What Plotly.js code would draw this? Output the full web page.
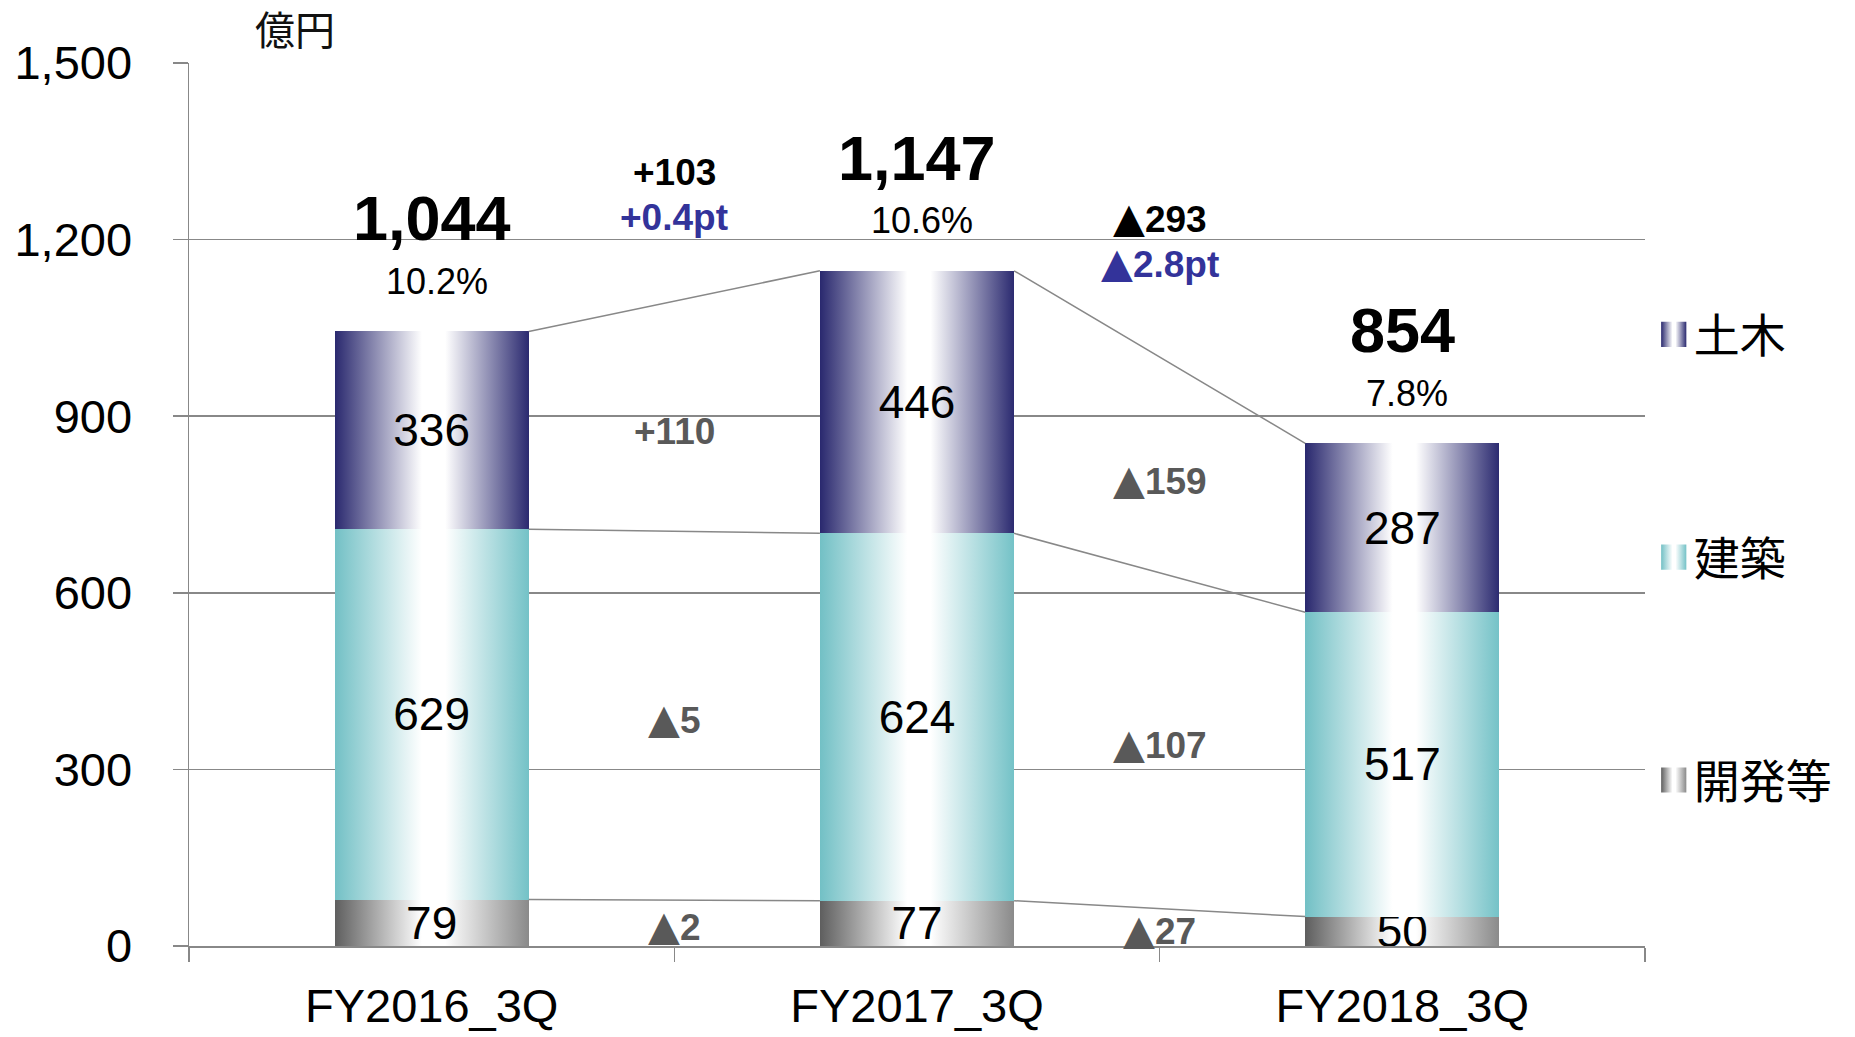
<!DOCTYPE html>
<html><head><meta charset="utf-8">
<script src="https://cdn.plot.ly/plotly-3.0.1.min.js"></script>
<style>html,body{margin:0;padding:0;background:#fff;}#chart{width:1855px;height:1037px;}</style>
</head><body>
<svg width="0" height="0" style="position:absolute"><defs id="gdefs"></defs></svg>
<div id="chart"></div>
<script>
// ---- data ----
const categories = ['FY2016_3Q', 'FY2017_3Q', 'FY2018_3Q'];
const seriesNames = ['開発等', '建築', '土木'];
const kaihatsu = [79, 77, 50];
const kenchiku = [629, 624, 517];
const doboku = [336, 446, 287];
const totals = [1044, 1147, 854];
const marginPct = [10.2, 10.6, 7.8];
const diffTotal = ['+103', '▲293'];
const diffPt = ['+0.4pt', '▲2.8pt'];
const diffDoboku = ['+110', '▲159'];
const diffKenchiku = ['▲5', '▲107'];
const diffKaihatsu = ['▲2', '▲27'];
const yTickVals = [0, 300, 600, 900, 1200, 1500];
const unitLabel = '億円';

// ---- style ----
const FONT = '"Liberation Sans", Arial, sans-serif';
const CJK = '"Noto Sans CJK JP", "Noto Sans CJK SC", sans-serif';
const GRAY = '#888888';
const BARW = 0.4;
const gradients = {
  '開発等': ['#5e5e5e', '#ffffff', '#ffffff', '#8a8a8a'],
  '建築':   ['#72c0c5', '#ffffff', '#ffffff', '#74c2c7'],
  '土木':   ['#29286e', '#ffffff', '#ffffff', '#2b2a70']
};
const baseColor = {'開発等': '#777777', '建築': '#74c2c7', '土木': '#2b2a70'};
const legendRank = {'土木': 1, '建築': 2, '開発等': 3};

const idx = categories.map((c, i) => i);
const seriesVals = [kaihatsu, kenchiku, doboku];

const lvl1 = kaihatsu.slice();
const lvl2 = kaihatsu.map((v, i) => v + kenchiku[i]);
const lvl3 = lvl2.map((v, i) => v + doboku[i]);

const traces = seriesNames.map((name, k) => ({
  type: 'bar', name: name, x: idx, y: seriesVals[k], width: BARW,
  text: seriesVals[k].map(String), textposition: 'inside', insidetextanchor: 'middle',
  constraintext: 'none', textangle: 0, cliponaxis: false,
  textfont: {family: FONT, size: 46, color: '#000'},
  marker: {color: baseColor[name], line: {width: 0}},
  legendgroup: name, legendrank: legendRank[name], hoverinfo: 'skip'
}));

function connector(levels) {
  const xs = [], ys = [];
  for (let i = 0; i < idx.length - 1; i++) {
    xs.push(idx[i] + BARW / 2, idx[i + 1] - BARW / 2, null);
    ys.push(levels[i], levels[i + 1], null);
  }
  return {type: 'scatter', mode: 'lines', x: xs, y: ys, showlegend: false,
    hoverinfo: 'skip', line: {color: GRAY, width: 1.5}};
}
[lvl1, lvl2, lvl3].forEach(l => traces.push(connector(l)));

// bigger triangle glyph
const tri = s => s.replace(/▲/g, '<span style="font-family:\'DejaVu Sans\';font-size:1.12em">▲</span>');

const annotations = [];
idx.forEach(i => {
  annotations.push({x: i, y: lvl3[i], xref: 'x', yref: 'y', yshift: 113, showarrow: false,
    text: '<b>' + totals[i].toLocaleString('en-US') + '</b>',
    font: {family: FONT, size: 63, color: '#000'}});
  annotations.push({x: i, y: lvl3[i], xref: 'x', yref: 'y', yshift: 50, xshift: 5, showarrow: false,
    text: marginPct[i].toFixed(1) + '%', font: {family: FONT, size: 36, color: '#000'}});
});
// positions of the change labels above the chart (layout constants)
const topLabelY = [[1314, 1237], [1237, 1161]];
const mid = (a, b) => (a + b) / 2;
for (let i = 0; i < idx.length - 1; i++) {
  const xm = idx[i] + 0.5;
  annotations.push({x: xm, y: topLabelY[i][0], xref: 'x', yref: 'y', showarrow: false,
    text: '<b>' + tri(diffTotal[i]) + '</b>', font: {family: FONT, size: 37, color: '#000'}});
  annotations.push({x: xm, y: topLabelY[i][1], xref: 'x', yref: 'y', showarrow: false,
    text: '<b>' + tri(diffPt[i]) + '</b>', font: {family: FONT, size: 37, color: '#33339a'}});
  const m3 = mid(mid(lvl2[i], lvl3[i]), mid(lvl2[i + 1], lvl3[i + 1]));
  const m2 = mid(mid(lvl1[i], lvl2[i]), mid(lvl1[i + 1], lvl2[i + 1]));
  const m1 = mid(mid(0, lvl1[i]), mid(0, lvl1[i + 1]));
  annotations.push({x: xm, y: m3, xref: 'x', yref: 'y', yshift: -15, showarrow: false,
    text: '<b>' + tri(diffDoboku[i]) + '</b>', font: {family: FONT, size: 37, color: '#595959'}});
  annotations.push({x: xm, y: m2, xref: 'x', yref: 'y', yshift: -3, showarrow: false,
    text: '<b>' + tri(diffKenchiku[i]) + '</b>', font: {family: FONT, size: 37, color: '#595959'}});
  annotations.push({x: xm, y: m1, xref: 'x', yref: 'y', yshift: -3, showarrow: false,
    text: '<b>' + tri(diffKaihatsu[i]) + '</b>', font: {family: FONT, size: 37, color: '#595959'}});
}
annotations.push({x: 0.0728, y: 1.04, xref: 'paper', yref: 'paper', xanchor: 'center', yanchor: 'middle',
  showarrow: false, text: unitLabel, font: {family: CJK, size: 40, color: '#111'}});

const boundaries = idx.map(i => i - 0.5).concat([idx.length - 0.5]);

const layout = {
  width: 1855, height: 1037,
  paper_bgcolor: '#fff', plot_bgcolor: '#fff',
  margin: {l: 189, r: 210, t: 63, b: 91},
  barmode: 'stack',
  showlegend: true,
  legend: {x: 1.006, xanchor: 'left', y: 0.44, yanchor: 'middle',
    traceorder: 'grouped', tracegroupgap: 160,
    font: {family: CJK, size: 46, color: '#000'}, bgcolor: 'rgba(0,0,0,0)'},
  xaxis: {range: [-0.5, 2.5], tickmode: 'array', tickvals: idx, ticktext: categories,
    ticks: '', showgrid: false, zeroline: false, showline: true, linecolor: GRAY, linewidth: 1.5,
    tickfont: {family: FONT, size: 47, color: '#000'}, ticklabelstandoff: 18,
    minor: {tickmode: 'array', tickvals: boundaries, ticks: 'outside', ticklen: 14,
      tickcolor: GRAY, tickwidth: 1.5, showgrid: false}},
  yaxis: {range: [0, 1500], tickmode: 'array', tickvals: yTickVals, tickformat: ',',
    ticks: 'outside', ticklen: 15, tickcolor: GRAY, tickwidth: 1.5,
    showgrid: true, gridcolor: GRAY, gridwidth: 1.5, showline: true, linecolor: GRAY, linewidth: 1.5,
    zeroline: false, tickfont: {family: FONT, size: 47, color: '#000'}, ticklabelstandoff: 31},
  annotations: annotations
};

function buildGradients() {
  const ns = 'http://www.w3.org/2000/svg';
  const defs = document.getElementById('gdefs');
  seriesNames.forEach((name, k) => {
    const g = document.createElementNS(ns, 'linearGradient');
    g.setAttribute('id', 'grad' + k);
    g.setAttribute('x1', '0'); g.setAttribute('y1', '0');
    g.setAttribute('x2', '1'); g.setAttribute('y2', '0');
    const cols = gradients[name];
    [[0, cols[0]], [0.45, cols[1]], [0.57, cols[2]], [1, cols[3]]].forEach(([o, c]) => {
      const s = document.createElementNS(ns, 'stop');
      s.setAttribute('offset', o); s.setAttribute('stop-color', c);
      g.appendChild(s);
    });
    defs.appendChild(g);
  });
}
function applyGradients(gd) {
  gd.querySelectorAll('.barlayer .trace.bars').forEach(tr => {
    const d = tr.__data__;
    const name = d && d[0] && d[0].trace ? d[0].trace.name : null;
    const k = seriesNames.indexOf(name);
    if (k < 0) return;
    tr.querySelectorAll('path').forEach(p => { p.style.fill = 'url(#grad' + k + ')'; });
  });
  gd.querySelectorAll('.legend .traces').forEach(tr => {
    const txt = tr.querySelector('.legendtext');
    const k = seriesNames.indexOf(txt ? txt.textContent : '');
    if (k < 0) return;
    tr.querySelectorAll('.legendpoints path').forEach(p => {
      p.style.fill = 'url(#grad' + k + ')';
      p.style.strokeWidth = '0';
      const t = p.getAttribute('transform') || '';
      p.setAttribute('transform', t + ' scale(2.1)');
    });
  });
}
buildGradients();
const gd = document.getElementById('chart');
Plotly.newPlot(gd, traces, layout, {displayModeBar: false, staticPlot: true}).then(applyGradients);
</script>
</body></html>
